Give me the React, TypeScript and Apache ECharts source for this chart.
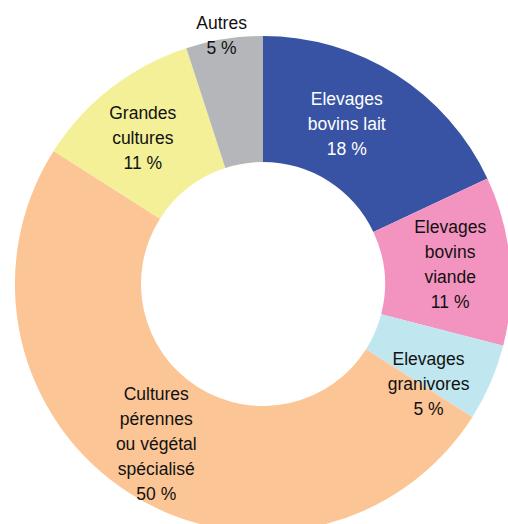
import React, { useEffect, useRef } from "react";
import * as echarts from "echarts";

const categories = [
  "Elevages\nbovins lait",
  "Elevages\nbovins\nviande",
  "Elevages\ngranivores",
  "Cultures\npérennes\nou végétal\nspécialisé",
  "Grandes\ncultures",
  "Autres",
];
const shares = [18, 11, 5, 50, 11, 5];
const colors = ["#3953A4", "#F394C0", "#C0E6EF", "#FCC595", "#F3F098", "#B5B6BA"];
const labelColors = ["#ffffff", "#111111", "#111111", "#111111", "#111111", "#111111"];
const labelShift: [number, number][] = [
  [-17, -1],
  [0, -2],
  [-7, 25],
  [-6, 1],
  [-5, 3],
  [-12, -63],
];

export default function App() {
  const ref = useRef<HTMLDivElement>(null);
  useEffect(() => {
    if (!ref.current) return;
    const chart = echarts.init(ref.current, null, { renderer: "svg" });
    chart.setOption({
      animation: false,
      backgroundColor: "#ffffff",
      series: [
        {
          type: "pie",
          center: [263, 284],
          radius: [122, 248],
          startAngle: 90,
          clockwise: true,
          avoidLabelOverlap: false,
          silent: true,
          label: {
            show: true,
            position: "inside",
            formatter: "{b}\n{c} %",
            fontSize: 17.5,
            lineHeight: 25,
            fontFamily: "Liberation Sans, Arial, sans-serif",
            align: "center",
          },
          labelLine: { show: false },
          labelLayout: (p: any) => ({
            dx: labelShift[p.dataIndex][0],
            dy: labelShift[p.dataIndex][1],
          }),
          data: categories.map((name, i) => ({
            name,
            value: shares[i],
            itemStyle: { color: colors[i] },
            label: { color: labelColors[i] },
          })),
        },
      ],
    });
    return () => chart.dispose();
  }, []);
  return (
    <div
      ref={ref}
      style={{ position: "fixed", left: 0, top: 0, width: 508, height: 524 }}
    />
  );
}
